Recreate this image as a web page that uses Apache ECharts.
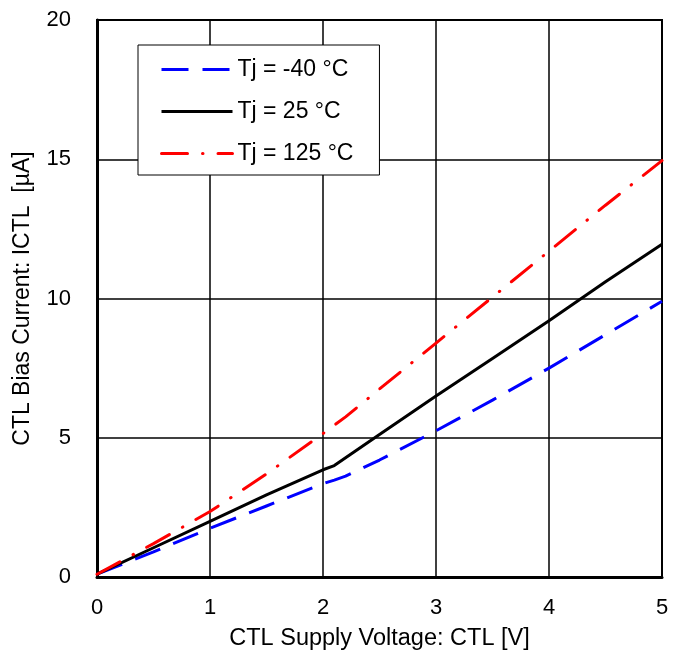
<!DOCTYPE html>
<html><head><meta charset="utf-8">
<script src="https://cdn.jsdelivr.net/npm/echarts@6/dist/echarts.min.js"></script>
<style>html,body{margin:0;padding:0;background:#fff}#c{width:682px;height:662px}</style>
</head><body><div id="c"></div>
<script>
const voltage = [0, 0.5, 1, 1.5, 2, 2.1, 2.2, 2.5, 3, 3.5, 4, 4.5, 5];
const iMinus40 = [0.1, 0.9, 1.75, 2.55, 3.35, 3.48, 3.62, 4.2, 5.25, 6.35, 7.5, 8.7, 9.9];
const i25 = [0.1, 1.05, 2.0, 2.95, 3.85, 4.0, 4.28, 5.12, 6.5, 7.85, 9.2, 10.6, 11.95];
const i125 = [0.1, 1.2, 2.35, 3.7, 5.15, 5.45, 5.75, 6.75, 8.4, 10.05, 11.7, 13.35, 14.95];
const names = ['Tj = -40 °C', 'Tj = 25 °C', 'Tj = 125 °C'];
const pair = (ys) => voltage.map((v, i) => [v, ys[i]]);
const font = 'Liberation Sans, Arial, sans-serif';
const chart = echarts.init(document.getElementById('c'));
chart.setOption({
  animation: false,
  grid: {left: 97, right: 20, top: 20, bottom: 85, show: true, borderColor: '#000', borderWidth: 2},
  xAxis: {
    type: 'value', min: 0, max: 5, interval: 1,
    name: 'CTL Supply Voltage: CTL [V]', nameLocation: 'middle', nameGap: 50,
    nameTextStyle: {fontFamily: font, fontSize: 23.5, color: '#000'},
    axisLine: {lineStyle: {color: '#000', width: 3}},
    axisTick: {show: false},
    axisLabel: {fontFamily: font, fontSize: 22, color: '#000', margin: 20},
    splitLine: {lineStyle: {color: '#000', width: 1.5}}
  },
  yAxis: {
    type: 'value', min: 0, max: 20, interval: 5,
    name: 'CTL Bias Current: ICTL  [µA]', nameLocation: 'middle', nameGap: 63,
    nameTextStyle: {fontFamily: font, fontSize: 23, color: '#000'},
    axisLine: {lineStyle: {color: '#000', width: 3}},
    axisTick: {show: false},
    axisLabel: {fontFamily: font, fontSize: 22, color: '#000', margin: 26},
    splitLine: {lineStyle: {color: '#000', width: 1.5}}
  },
  legend: {
    orient: 'vertical', left: 138, top: 45,
    padding: [13, 26, 10, 22], itemGap: 19, itemWidth: 71, itemHeight: 14,
    backgroundColor: '#fff', borderColor: '#000', borderWidth: 1,
    itemStyle: {opacity: 0},
    lineStyle: {width: 3},
    textStyle: {fontFamily: font, fontSize: 23, color: '#000'},
    data: names
  },
  series: [
    {name: names[0], type: 'line', data: pair(iMinus40), showSymbol: false, symbol: 'none',
     lineStyle: {color: '#0000ff', width: 3, type: [27, 14]}, itemStyle: {color: '#0000ff'}},
    {name: names[1], type: 'line', data: pair(i25), showSymbol: false, symbol: 'none',
     lineStyle: {color: '#000', width: 3}, itemStyle: {color: '#000'}},
    {name: names[2], type: 'line', data: pair(i125), showSymbol: false, symbol: 'none',
     lineStyle: {color: '#ff0000', width: 3, type: [26, 15, 0.5, 15], cap: 'round'}, itemStyle: {color: '#ff0000'}}
  ]
});
</script></body></html>
